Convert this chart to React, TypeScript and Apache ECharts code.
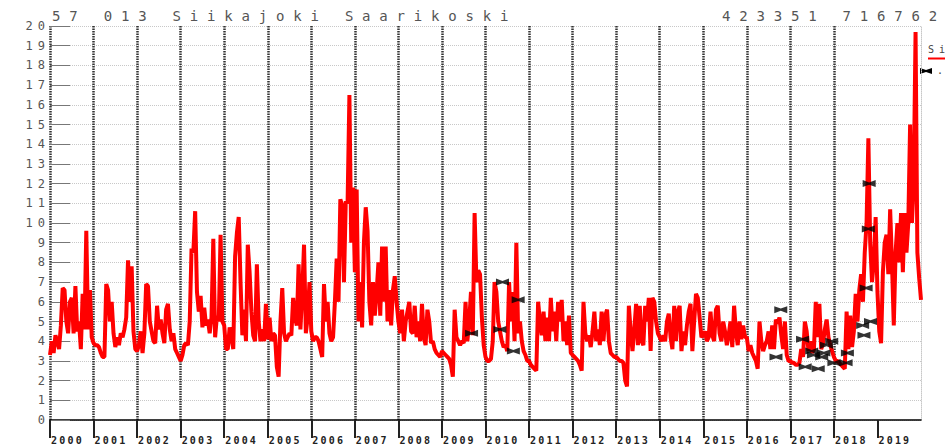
import React, { useEffect, useRef } from 'react';
import * as echarts from 'echarts';

// ---- Data ----
const titleText = '57 013 Siikajoki Saarikoski';
const coordText = '423351 7167622';
const legendLineName = 'Si';
const legendMarkerName = '.';

const years = [2000, 2001, 2002, 2003, 2004, 2005, 2006, 2007, 2008, 2009, 2010, 2011, 2012, 2013, 2014, 2015, 2016, 2017, 2018, 2019];
const xTickValues = years;

// values spread evenly through each year
const y2000 = [3.3, 4.0, 3.4, 4.3, 4.0, 3.6, 4.8, 6.7, 6.6, 5.0, 4.4, 6.0, 6.2, 4.4, 6.8, 4.5, 5.0, 3.6, 6.4, 4.6, 9.6, 4.6, 6.6, 4.2];
const y2001 = [3.9, 3.8, 3.8, 3.7, 3.4, 3.2, 3.2, 6.9, 6.6, 5.0, 6.0, 4.4, 3.7, 4.2, 3.8, 4.4, 4.2, 4.6, 5.2, 8.1, 6.0, 7.8, 4.5, 3.6];
const y2002 = [3.5, 3.8, 4.5, 3.4, 4.4, 6.9, 6.8, 5.0, 4.5, 4.0, 3.9, 5.8, 4.6, 5.1, 4.4, 3.9, 5.6, 5.9, 4.6, 4.0, 4.4, 3.6, 3.4, 3.2];
const y2003 = [3.0, 3.3, 3.8, 3.9, 3.8, 5.0, 8.7, 8.5, 10.6, 6.5, 5.5, 6.3, 4.7, 5.7, 4.8, 5.1, 4.4, 5.2, 9.2, 4.2, 5.3, 5.0, 9.4, 5.0];
const y2004 = [4.8, 3.6, 3.6, 4.7, 4.2, 3.6, 8.3, 9.5, 10.3, 7.0, 4.3, 5.6, 4.0, 8.9, 7.5, 5.5, 4.3, 4.0, 7.9, 5.0, 4.0, 4.6, 4.0, 5.9];
const y2005 = [4.1, 5.2, 4.0, 4.4, 4.3, 2.7, 2.2, 5.0, 6.7, 4.4, 4.0, 4.2, 4.4, 4.3, 6.2, 5.2, 4.8, 7.9, 4.6, 6.5, 8.9, 4.4, 5.2, 7.0];
const y2006 = [4.5, 4.0, 4.2, 4.2, 4.0, 3.6, 3.2, 6.9, 5.0, 6.0, 4.4, 4.0, 4.2, 6.0, 8.2, 6.0, 11.2, 10.9, 7.0, 11.1, 11.0, 16.5, 9.0, 11.8];
const y2007 = [7.5, 11.7, 5.0, 7.0, 4.7, 9.0, 10.8, 9.6, 6.0, 4.8, 7.0, 5.3, 6.5, 8.0, 5.3, 8.8, 6.0, 8.8, 5.0, 6.6, 4.8, 6.6, 7.3, 6.0];
const y2008 = [5.0, 4.4, 5.6, 4.0, 5.0, 5.5, 6.0, 4.5, 4.4, 5.8, 4.2, 5.0, 4.0, 5.9, 4.2, 3.8, 5.6, 5.0, 3.9, 4.0, 3.6, 3.4, 3.3, 3.2];
const y2009 = [3.5, 3.4, 3.3, 3.2, 3.1, 2.8, 2.2, 5.6, 4.2, 4.0, 3.8, 4.0, 3.9, 6.0, 4.0, 5.0, 6.5, 4.3, 10.5, 7.0, 7.6, 7.4, 5.2, 3.8];
const y2010 = [3.2, 3.0, 3.0, 3.1, 4.0, 7.0, 6.5, 5.0, 4.5, 4.0, 3.7, 3.8, 3.5, 7.0, 5.0, 6.5, 4.0, 9.0, 4.4, 5.0, 4.0, 3.5, 3.3, 3.0];
const y2011 = [3.0, 2.8, 2.7, 2.6, 2.5, 6.0, 5.0, 4.3, 5.5, 4.0, 5.2, 4.0, 6.2, 4.5, 5.5, 4.0, 6.0, 5.0, 6.1, 4.0, 5.0, 3.8, 5.3, 3.4];
const y2012 = [3.3, 3.2, 3.1, 3.0, 2.8, 2.5, 6.0, 4.4, 4.0, 4.3, 3.7, 4.5, 5.5, 4.0, 4.6, 3.8, 5.5, 4.0, 5.3, 5.6, 4.0, 3.4, 3.3, 3.2];
const y2013 = [3.2, 3.1, 3.0, 3.0, 2.9, 2.0, 1.7, 5.8, 4.5, 3.5, 4.6, 5.9, 3.8, 5.8, 4.0, 3.8, 5.8, 5.0, 6.2, 3.5, 6.2, 6.0, 5.0, 4.4];
const y2014 = [4.2, 4.0, 4.3, 4.0, 5.0, 5.4, 4.2, 3.6, 5.8, 4.0, 5.5, 5.8, 3.5, 4.5, 3.8, 4.8, 5.5, 5.9, 3.5, 5.0, 6.4, 6.2, 5.2, 4.2];
const y2015 = [4.3, 4.5, 4.0, 4.2, 5.5, 4.3, 4.0, 5.6, 5.8, 4.4, 4.0, 5.0, 4.5, 3.8, 4.3, 5.0, 3.7, 5.8, 4.5, 3.8, 5.0, 4.1, 4.8, 4.2];
const y2016 = [4.2, 3.5, 3.8, 3.4, 3.2, 3.0, 2.6, 5.0, 4.0, 3.5, 3.8, 4.0, 4.5, 3.6, 4.8, 3.6, 5.1, 4.9, 5.2, 4.3, 3.6, 5.0, 3.3, 3.0];
const y2017 = [3.0, 2.9, 2.9, 2.8, 2.8, 2.9, 3.6, 3.2, 5.0, 4.5, 3.5, 4.0, 3.4, 3.6, 6.0, 4.2, 5.9, 3.6, 3.9, 4.6, 5.1, 4.2, 3.8, 3.5];
const y2018 = [3.2, 3.0, 3.0, 2.9, 2.8, 2.7, 2.6, 5.5, 3.6, 5.3, 3.7, 4.5, 6.4, 5.0, 6.6, 7.4, 6.0, 8.5, 10.0, 14.3, 9.0, 7.0, 8.0, 10.3];
const y2019 = [6.5, 4.5, 3.9, 7.5, 9.0, 9.4, 7.4, 10.7, 8.0, 4.8, 8.5, 10.0, 8.0, 10.5, 7.5, 10.5, 8.5, 10.0, 15.0, 10.0, 12.0, 19.7, 8.5, 7.2];
const endTime = 2020;
const endValue = 6.1;

const yearly = [y2000, y2001, y2002, y2003, y2004, y2005, y2006, y2007, y2008, y2009, y2010, y2011, y2012, y2013, y2014, y2015, y2016, y2017, y2018, y2019];

// observed measurements (black markers)
const markerTimes = [2009.68, 2010.33, 2010.39, 2010.64, 2010.75, 2016.67, 2016.78, 2017.28, 2017.34, 2017.49, 2017.53, 2017.64, 2017.72, 2017.77, 2017.83, 2017.95, 2018.0, 2018.28, 2018.31, 2018.66, 2018.69, 2018.74, 2018.79, 2018.81, 2018.84];
const markerValues = [4.4, 4.6, 7.0, 3.5, 6.1, 3.2, 5.6, 4.1, 2.7, 3.5, 3.3, 2.6, 3.2, 3.4, 3.8, 4.0, 2.9, 2.9, 3.4, 4.8, 4.3, 6.7, 9.7, 12.0, 5.0];

const bowtie = 'path://M0,0L6,2L12,0L12,6L6,4L0,6Z';
const MONO = '"DejaVu Sans Mono", "Liberation Mono", monospace';

function buildLine(): number[][] {
  const out: number[][] = [];
  years.forEach((yr, k) => {
    const arr = yearly[k];
    arr.forEach((v, i) => out.push([yr + i / arr.length, v]));
  });
  out.push([endTime, endValue]);
  return out;
}

export default function App() {
  const ref = useRef<HTMLDivElement>(null);
  useEffect(() => {
    const el = ref.current!;
    const chart = echarts.init(el, null, { renderer: 'svg' });
    const option: any = {
      animation: false,
      grid: { left: 50, right: 24, top: 26, bottom: 27 },
      xAxis: {
        type: 'value', min: 2000, max: 2020, interval: 1,
        axisLine: { show: true, onZero: false, lineStyle: { color: '#000', width: 1.5 } },
        axisTick: { show: true, length: 18, customValues: xTickValues, lineStyle: { color: '#222', width: 2 } },
        axisLabel: {
          show: true, customValues: xTickValues,
          formatter: (v: number) => (v < 2020 ? String(v) : ''),
          align: 'left', margin: 15, fontFamily: MONO, fontSize: 10, fontWeight: 'bold', color: '#222',
          padding: [0, 0, 0, 1]
        },
        splitLine: { show: true, showMaxLine: false, lineStyle: { color: '#333', width: 2.5, type: [1.5, 1] } }
      },
      yAxis: [
        {
          type: 'value', min: 0, max: 20, interval: 1,
          axisLine: { show: false },
          axisTick: { show: true, inside: true, length: 20, lineStyle: { color: '#777', width: 1 } },
          axisLabel: { fontFamily: MONO, fontSize: 12, color: '#555', margin: 0 },
          splitLine: { show: true, lineStyle: { color: '#c8c8c8', type: 'dotted', width: 1 } }
        },
        {
          type: 'value', min: 0, max: 20, interval: 1, position: 'right',
          axisLine: { show: true, lineStyle: { color: '#c8c8c8', type: 'dotted', width: 1 } },
          axisTick: { show: false }, axisLabel: { show: false }, splitLine: { show: false }
        }
      ],
      series: [
        {
          type: 'line', data: buildLine(), symbol: 'none', z: 2,
          lineStyle: { color: '#ff0000', width: 4 }
        },
        {
          type: 'scatter', data: markerTimes.map((t, i) => [t, markerValues[i]]), z: 3,
          symbol: bowtie, symbolSize: [13, 7], itemStyle: { color: '#000' }
        }
      ],
      graphic: [
        { type: 'text', left: 52, top: 9, style: { text: titleText, font: `14px ${MONO}`, fill: '#555' } },
        { type: 'text', left: 722, top: 9, style: { text: coordText, font: `14px ${MONO}`, fill: '#555' } },
        { type: 'text', left: 928, top: 44, style: { text: legendLineName, font: `10px ${MONO}`, fill: '#444' } },
        { type: 'line', shape: { x1: 928, y1: 58.5, x2: 945, y2: 58.5 }, style: { stroke: '#ff0000', lineWidth: 2 } },
        {
          type: 'polygon', x: 920, y: 68,
          shape: { points: [[0, 0], [6, 2], [12, 0], [12, 6], [6, 4], [0, 6]] },
          style: { fill: '#000' }
        },
        { type: 'text', left: 937, top: 65, style: { text: legendMarkerName, font: `10px ${MONO}`, fill: '#444' } }
      ]
    };
    chart.setOption(option);

    const applySpacing = () => {
      el.querySelectorAll('text').forEach((t) => {
        const s = (t.textContent || '').trim();
        let ls = 8.8;
        if (/^\d{4}$/.test(s)) ls = 2.2;
        else if (/^\d{1,2}$/.test(s)) ls = 5;
        else if (s === legendLineName || s === legendMarkerName) ls = 5;
        t.setAttribute('letter-spacing', String(ls));
      });
    };
    applySpacing();
    chart.on('finished', applySpacing);
    return () => { chart.dispose(); };
  }, []);
  return <div ref={ref} style={{ position: 'absolute', left: 0, top: 0, width: 945, height: 447 }} />;
}
